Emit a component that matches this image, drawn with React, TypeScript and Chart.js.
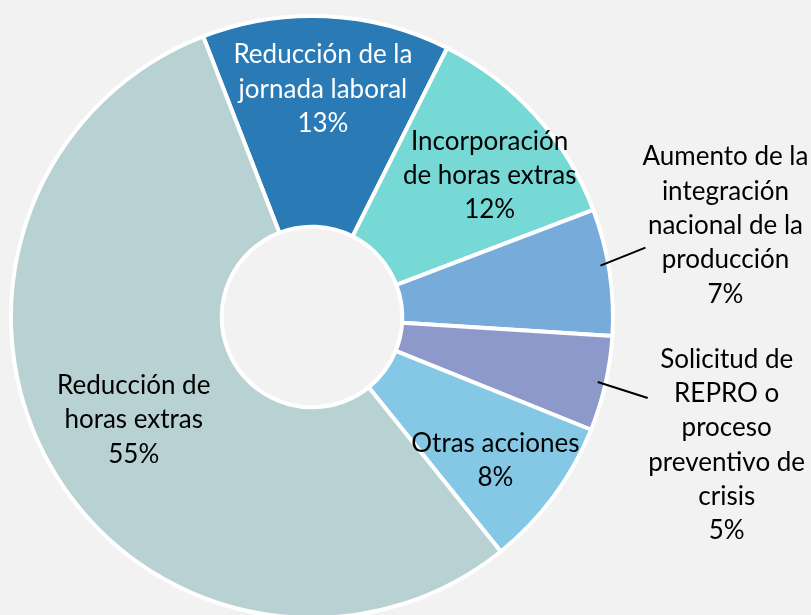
import React, { useEffect, useRef } from "react";
import { Chart, registerables } from "chart.js";

Chart.register(...registerables);

// ---- Data ----
const categories = [
  "Reducción de la jornada laboral",
  "Incorporación de horas extras",
  "Aumento de la integración nacional de la producción",
  "Solicitud de REPRO o proceso preventivo de crisis",
  "Otras acciones",
  "Reducción de horas extras",
];
const labelLines = [
  ["Reducción de la", "jornada laboral"],
  ["Incorporación", "de horas extras"],
  ["Aumento de la", "integración", "nacional de la", "producción"],
  ["Solicitud de", "REPRO o", "proceso", "preventivo de", "crisis"],
  ["Otras acciones"],
  ["Reducción de", "horas extras"],
];
const shares = [13.3, 11.8, 6.8, 5.1, 8.1, 54.9];
const sliceColors = ["#2A7AB5", "#77D9D5", "#77ACDA", "#8D99CB", "#84C8E5", "#B8D1D3"];
const labelColors = ["#FFFFFF", "#000000", "#000000", "#000000", "#000000", "#000000"];

// ---- Label layout (style config) ----
type LabelStyle =
  | { mode: "inside"; radiusFrac: number; angleShift: number }
  | { mode: "outside"; startInset: number; angleShift: number; lineDx: number; lineDy: number; textDx: number; textDy: number };
const labelStyles: LabelStyle[] = [
  { mode: "inside", radiusFrac: 0.757, angleShift: 0 },
  { mode: "inside", radiusFrac: 0.754, angleShift: 3.6 },
  { mode: "outside", startInset: 8, angleShift: -1.5, lineDx: 45, lineDy: -18, textDx: 80, textDy: -22 },
  { mode: "outside", startInset: 8, angleShift: 0, lineDx: 50, lineDy: 16, textDx: 79, textDy: 47 },
  { mode: "inside", radiusFrac: 0.774, angleShift: 1.5 },
  { mode: "inside", radiusFrac: 0.684, angleShift: 0 },
];

const FONT = "26px Lato, 'Open Sans', sans-serif";
const LINE_H = 34.3;

const labelPlugin = {
  id: "sliceLabels",
  afterDatasetsDraw(chart: any) {
    const ctx = chart.ctx;
    const meta = chart.getDatasetMeta(0);
    const data = chart.data.datasets[0].data as number[];
    const total = data.reduce((a, b) => a + b, 0);
    ctx.save();
    ctx.font = FONT;
    ctx.textAlign = "center";
    ctx.textBaseline = "middle";
    meta.data.forEach((arc: any, i: number) => {
      const p = arc.getProps(["x", "y", "startAngle", "endAngle", "innerRadius", "outerRadius"], true);
      const st = labelStyles[i];
      const mid = (p.startAngle + p.endAngle) / 2 + (st.angleShift * Math.PI) / 180;
      const lines = [...labelLines[i], Math.round((data[i] / total) * 100) + "%"];
      let cx: number, cy: number;
      if (st.mode === "inside") {
        const r = p.outerRadius * st.radiusFrac;
        cx = p.x + Math.cos(mid) * r;
        cy = p.y + Math.sin(mid) * r;
      } else {
        const r = p.outerRadius - st.startInset;
        const sx = p.x + Math.cos(mid) * r;
        const sy = p.y + Math.sin(mid) * r;
        const ex = sx + st.lineDx;
        const ey = sy + st.lineDy;
        ctx.beginPath();
        ctx.strokeStyle = "#000000";
        ctx.lineWidth = 2;
        ctx.moveTo(sx, sy);
        ctx.lineTo(ex, ey);
        ctx.stroke();
        cx = ex + st.textDx;
        cy = ey + st.textDy;
      }
      ctx.fillStyle = labelColors[i];
      const y0 = cy - ((lines.length - 1) * LINE_H) / 2;
      lines.forEach((t, k) => ctx.fillText(t, cx, y0 + k * LINE_H));
    });
    ctx.restore();
  },
};

export default function App() {
  const ref = useRef<HTMLCanvasElement | null>(null);
  useEffect(() => {
    document.documentElement.style.overflow = "hidden";
    document.body.style.overflow = "hidden";
    document.body.style.background = "#F2F2F2";
    const chart = new Chart(ref.current!, {
      type: "doughnut",
      data: {
        labels: categories,
        datasets: [
          {
            data: shares,
            backgroundColor: sliceColors,
            borderColor: "#FFFFFF",
            borderWidth: 4,
          },
        ],
      },
      options: {
        animation: false,
        responsive: false,
        rotation: -21.2,
        cutout: "30%",
        layout: { padding: { left: 9, right: 196, top: 14, bottom: 20 } },
        plugins: { legend: { display: false }, tooltip: { enabled: false }, title: { display: false } },
      },
      plugins: [labelPlugin],
    });
    return () => chart.destroy();
  }, []);
  return (
    <div style={{ position: "fixed", left: 0, top: 0, width: 811, height: 640, background: "#F2F2F2" }}>
      <canvas ref={ref} width={811} height={640} style={{ width: 811, height: 640, display: "block" }} />
    </div>
  );
}
